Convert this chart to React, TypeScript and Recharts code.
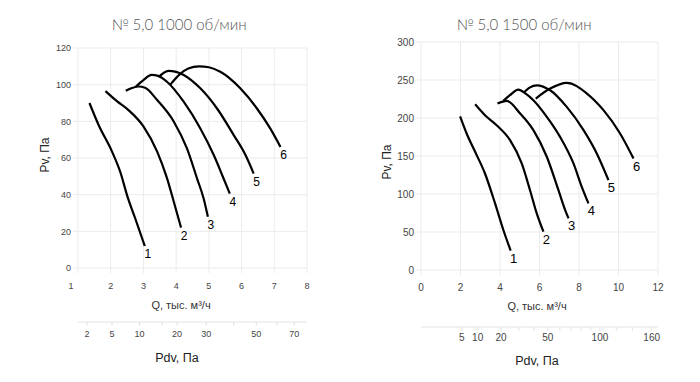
import React from 'react';
import { LineChart, Line, XAxis, YAxis, CartesianGrid, LabelList } from 'recharts';

// ---------- 1000 rpm ----------
const qTicks1000 = [1, 2, 3, 4, 5, 6, 7, 8];
const pTicks1000 = [0, 20, 40, 60, 80, 100, 120];
const pdvQ1000 = [1.275, 2.04, 2.88, 3.57, 4.03, 4.92, 5.76, 6.45, 7.09, 7.61];
const pdvLabels1000 = ['2', '5', '10', '', '20', '30', '', '50', '', '70'];

const c1000_1 = [[1.35, 90], [1.63, 78], [2.04, 63.5], [2.29, 52.5], [2.52, 38.5], [2.75, 27], [3.04, 12]];
const c1000_2 = [[1.84, 96.5], [2.19, 91], [2.55, 86], [3.01, 77], [3.42, 63.5], [3.72, 49], [3.93, 36], [4.15, 22]];
const c1000_3 = [[2.46, 96.7], [2.65, 98.2], [2.85, 99], [3.05, 98.3], [3.42, 91.6], [3.93, 79.8], [4.33, 65.2], [4.64, 48.8], [4.84, 37.9], [4.97, 28]];
const c1000_4 = [[2.75, 98.6], [3.0, 102.5], [3.25, 105.3], [3.45, 104.8], [3.72, 101.6], [4.23, 90.7], [4.74, 76.1], [5.15, 61.6], [5.45, 48.8], [5.64, 40.6]];
const c1000_5 = [[3.46, 104], [3.76, 107.5], [4.0, 107], [4.23, 105.3], [4.74, 98], [5.25, 87], [5.76, 72.5], [6.12, 61.6], [6.37, 51.5]];
const c1000_6 = [[3.82, 100], [4.1, 105.5], [4.37, 108.8], [4.7, 110], [5.0, 109.5], [5.35, 107], [5.96, 98], [6.47, 87], [6.88, 76], [7.19, 66]];

// ---------- 1500 rpm ----------
const qTicks1500 = [0, 2, 4, 6, 8, 10, 12];
const pTicks1500 = [0, 50, 100, 150, 200, 250, 300];
const pdvQ1500 = [2.06, 2.87, 4.05, 4.96, 5.73, 6.42, 7.03, 7.6, 8.1, 8.6, 9.06, 9.92, 10.7, 11.68];
const pdvLabels1500 = ['5', '10', '20', '', '', '50', '', '', '', '', '100', '', '', '160'];

const c1500_1 = [[1.98, 202], [2.31, 179.6], [2.74, 155.5], [3.24, 127], [3.75, 87.6], [4.17, 52.6], [4.54, 25.4]];
const c1500_2 = [[2.74, 218], [3.24, 203.7], [3.83, 190.5], [4.51, 170.8], [5.1, 140.2], [5.52, 105], [5.86, 74.5], [6.2, 50.4]];
const c1500_3 = [[3.87, 219], [4.34, 222.5], [5.02, 205.9], [5.69, 184], [6.37, 149], [6.96, 105], [7.3, 78.8], [7.47, 68]];
const c1500_4 = [[4.17, 222.5], [4.5, 230], [4.93, 237.4], [5.3, 232], [5.69, 223.4], [6.37, 201.5], [7.04, 175.2], [7.72, 140.2], [8.14, 109.5], [8.48, 87.6]];
const c1500_5 = [[5.19, 233], [5.5, 240], [5.86, 243], [6.54, 236.5], [7.38, 214.6], [8.23, 184], [8.9, 153.3], [9.49, 118.3]];
const c1500_6 = [[5.81, 225.6], [6.54, 238.7], [7.38, 246.2], [8.4, 232.2], [9.24, 210.3], [10.08, 179.6], [10.76, 146.7]];

const curveNames = ['1', '2', '3', '4', '5', '6'];

const toRows = (arr: number[][]) => arr.map(([q, p]) => ({ q, p }));

const TICK_FONT = 'Liberation Sans, Arial, sans-serif';
const GRID = '#ebebeb';

type Cfg = {
  left: number;
  width: number;
  margin: { top: number; right: number; left: number; bottom: number };
  yWidth: number;
  qH: number;
  pdvH: number;
  xDomain: [number, number];
  yDomain: [number, number];
  xTicks: number[];
  yTicks: number[];
  pdvQ: number[];
  pdvLabels: string[];
  curves: number[][][];
  tickFont: number;
  qMargin: number;
  pdvMargin: number;
  curveFont: number;
  firstTickShift: number;
};

function FanChart({ cfg }: { cfg: Cfg }) {
  const XTick = (props: any) => {
    const { x, y, payload } = props;
    const shift = payload.value === cfg.xDomain[0] ? cfg.firstTickShift : 0;
    return (
      <text x={x + shift} y={y} dy="0.71em" textAnchor="middle" fontSize={cfg.tickFont} fontFamily={TICK_FONT} fill="#444">
        {payload.value}
      </text>
    );
  };
  const PdvTick = (props: any) => {
    const { x, y, index } = props;
    const lbl = cfg.pdvLabels[index];
    if (!lbl) return <g />;
    return (
      <text x={x} y={y} dy="0.71em" textAnchor="middle" fontSize={cfg.tickFont} fontFamily={TICK_FONT} fill="#444">
        {lbl}
      </text>
    );
  };
  return (
    <div style={{ position: 'absolute', left: cfg.left, top: 0 }}>
      <LineChart width={cfg.width} height={382} margin={cfg.margin}>
        <CartesianGrid stroke={GRID} strokeWidth={1} />
        <XAxis
          type="number"
          dataKey="q"
          domain={cfg.xDomain}
          ticks={cfg.xTicks}
          allowDataOverflow
          height={cfg.qH}
          axisLine={false}
          tickLine={{ stroke: GRID }}
          tickSize={5}
          tickMargin={cfg.qMargin}
          tick={<XTick />}
          interval={0}
        />
        <XAxis
          xAxisId="pdv"
          type="number"
          dataKey="q"
          domain={cfg.xDomain}
          ticks={cfg.pdvQ}
          allowDataOverflow
          height={cfg.pdvH}
          axisLine={{ stroke: '#e3e3e3' }}
          tickLine={{ stroke: '#e3e3e3' }}
          tickSize={4}
          tickMargin={cfg.pdvMargin}
          tick={<PdvTick />}
          interval={0}
        />
        <YAxis
          type="number"
          domain={cfg.yDomain}
          ticks={cfg.yTicks}
          allowDataOverflow
          width={cfg.yWidth}
          axisLine={false}
          tickLine={{ stroke: GRID }}
          tickSize={5}
          tick={{ fontSize: cfg.tickFont, fontFamily: TICK_FONT, fill: '#444' }}
          interval={0}
        />
        {cfg.curves.map((c, i) => {
          const rows = toRows(c);
          return (
            <Line
              key={i}
              data={rows}
              dataKey="p"
              type="monotone"
              stroke="#000"
              strokeWidth={2.2}
              dot={false}
              activeDot={false}
              isAnimationActive={false}
            >
              <LabelList
                dataKey="p"
                content={(lp: any) => {
                  if (lp.index !== rows.length - 1) return <g />;
                  return (
                    <text
                      x={lp.x + 3}
                      y={lp.y + 12}
                      textAnchor="middle"
                      fontSize={cfg.curveFont}
                      fontFamily={TICK_FONT}
                      fill="#000"
                    >
                      {curveNames[i]}
                    </text>
                  );
                }}
              />
            </Line>
          );
        })}
      </LineChart>
    </div>
  );
}

const cfg1000: Cfg = {
  left: 0,
  width: 350,
  margin: { top: 48, right: 43, left: 0, bottom: 10 },
  yWidth: 78,
  qH: 54,
  pdvH: 50,
  xDomain: [1, 8],
  yDomain: [0, 120],
  xTicks: qTicks1000,
  yTicks: pTicks1000,
  pdvQ: pdvQ1000,
  pdvLabels: pdvLabels1000,
  curves: [c1000_1, c1000_2, c1000_3, c1000_4, c1000_5, c1000_6],
  tickFont: 9,
  qMargin: 10,
  pdvMargin: 5,
  curveFont: 12,
  firstTickShift: -7,
};

const cfg1500: Cfg = {
  left: 350,
  width: 350,
  margin: { top: 42, right: 42, left: 0, bottom: 10 },
  yWidth: 71,
  qH: 57,
  pdvH: 45,
  xDomain: [0, 12],
  yDomain: [0, 300],
  xTicks: qTicks1500,
  yTicks: pTicks1500,
  pdvQ: pdvQ1500,
  pdvLabels: pdvLabels1500,
  curves: [c1500_1, c1500_2, c1500_3, c1500_4, c1500_5, c1500_6],
  tickFont: 10,
  qMargin: 9,
  pdvMargin: 3,
  curveFont: 13,
  firstTickShift: 0,
};

export default function App() {
  const titleStyle = { fontFamily: 'Lato, "Open Sans", sans-serif', fontWeight: 300 } as React.CSSProperties;
  return (
    <div style={{ position: 'absolute', left: 0, top: 0, width: 700, height: 382, background: '#fff', overflow: 'hidden' }}>
      <FanChart cfg={cfg1000} />
      <FanChart cfg={cfg1500} />
      <svg width={700} height={382} style={{ position: 'absolute', left: 0, top: 0, pointerEvents: 'none' }}>
        <text x={179} y={30} textAnchor="middle" fontSize={15} fill="#555" style={titleStyle}>№ 5,0 1000 об/мин</text>
        <text x={524} y={30} textAnchor="middle" fontSize={15} fill="#555" style={titleStyle}>№ 5,0 1500 об/мин</text>

        <text x={181} y={309} textAnchor="middle" fontSize={11} fontFamily={TICK_FONT} fill="#333">Q, тыс. м³/ч</text>
        <text x={537} y={310} textAnchor="middle" fontSize={11} fontFamily={TICK_FONT} fill="#333">Q, тыс. м³/ч</text>

        <text x={177} y={362} textAnchor="middle" fontSize={12.5} fontFamily={TICK_FONT} fill="#222">Pdv, Па</text>
        <text x={537} y={365} textAnchor="middle" fontSize={12.5} fontFamily={TICK_FONT} fill="#222">Pdv, Па</text>

        <text x={49} y={155} textAnchor="middle" fontSize={12} fontFamily={TICK_FONT} fill="#222" transform="rotate(-90 49 155)">Pv, Па</text>
        <text x={391} y={162} textAnchor="middle" fontSize={12} fontFamily={TICK_FONT} fill="#222" transform="rotate(-90 391 162)">Pv, Па</text>
      </svg>
    </div>
  );
}
